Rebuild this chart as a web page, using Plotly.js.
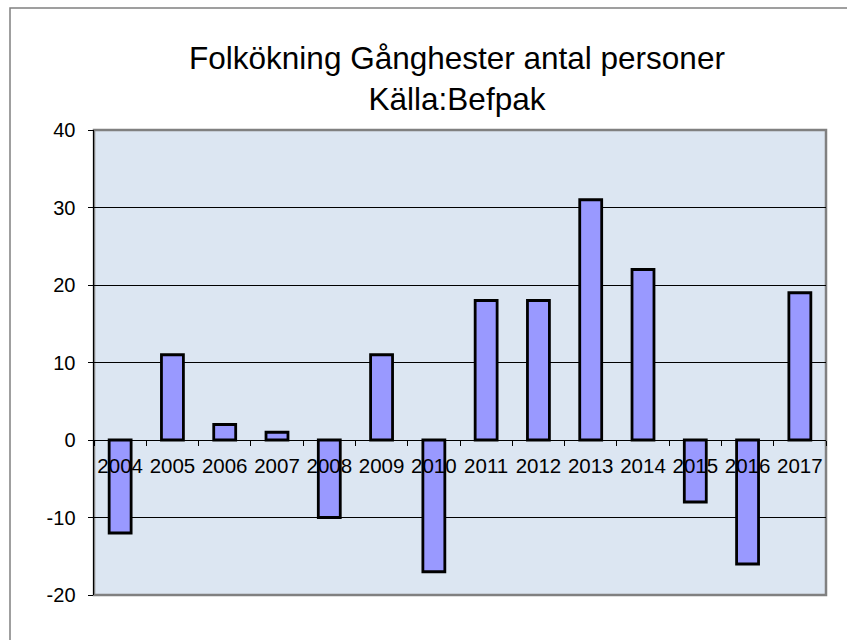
<!DOCTYPE html>
<html>
<head>
<meta charset="utf-8">
<script src="https://cdn.plot.ly/plotly-3.0.1.min.js"></script>
<style>html,body{margin:0;padding:0;background:#fff;}#chart{width:847px;height:640px;}</style>
</head>
<body>
<div id="chart"></div>
<script>
const years = ["2004","2005","2006","2007","2008","2009","2010","2011","2012","2013","2014","2015","2016","2017"];
const growth = [-12, 11, 2, 1, -10, 11, -17, 18, 18, 31, 22, -8, -16, 19];
const yTicks = [-20, -10, 0, 10, 20, 30, 40];
const yTickText = ["-20", "-10", "0", "10", "20", "30", "40"];
const titleText = "Folkökning Gånghester antal personer<br>Källa:Befpak";

const W = 847, H = 640;
const L = 94, R = 21, T = 130, B = 45;
const pw = W - L - R, ph = H - T - B;

const trace = {
  type: "bar",
  x: years,
  y: growth,
  marker: {color: "#9999ff", line: {color: "#000000", width: 2.8}},
  hoverinfo: "x+y"
};

const layout = {
  width: W, height: H,
  margin: {l: L, r: R, t: T, b: B},
  paper_bgcolor: "#ffffff",
  plot_bgcolor: "#dce6f2",
  font: {family: "Liberation Sans, Arial, sans-serif", color: "#000000", size: 20},
  title: {
    text: titleText,
    font: {size: 31.5, family: "Liberation Sans, Arial, sans-serif", color: "#000"},
    x: 457 / W, xanchor: "center",
    y: 1 - 69 / H, yanchor: "middle", yref: "container"
  },
  showlegend: false,
  bargap: 0.58,
  xaxis: {
    type: "category",
    anchor: "free",
    position: (0 - yTicks[0]) / (yTicks[yTicks.length - 1] - yTicks[0]),
    showline: true, linecolor: "#000", linewidth: 1,
    ticks: "outside", ticklen: 5, tickcolor: "#000", tickwidth: 1,
    tickson: "boundaries",
    tickangle: 0,
    ticklabelstandoff: 7,
    showgrid: false, zeroline: false,
    tickfont: {size: 20.5}
  },
  yaxis: {
    range: [yTicks[0], yTicks[yTicks.length - 1]],
    tickmode: "array",
    tickvals: yTicks,
    ticktext: yTickText,
    showline: true, linecolor: "#000", linewidth: 1.5,
    ticks: "outside", ticklen: 5, tickcolor: "#000",
    ticklabelstandoff: 8,
    showgrid: true, gridcolor: "#000", gridwidth: 1,
    zeroline: false,
    tickfont: {size: 20}
  },
  shapes: [
    {type: "rect", xref: "paper", yref: "paper", x0: 0, x1: 1, y0: 0, y1: 1,
     line: {color: "#808080", width: 2.5}, layer: "below"},
    {type: "rect", xref: "paper", yref: "paper",
     x0: (10 - L) / pw, x1: 1.2, y0: -0.3, y1: (H - B - 8) / ph,
     line: {color: "#808080", width: 1.5}}
  ]
};

Plotly.newPlot("chart", [trace], layout, {displayModeBar: false, staticPlot: true});
</script>
</body>
</html>
